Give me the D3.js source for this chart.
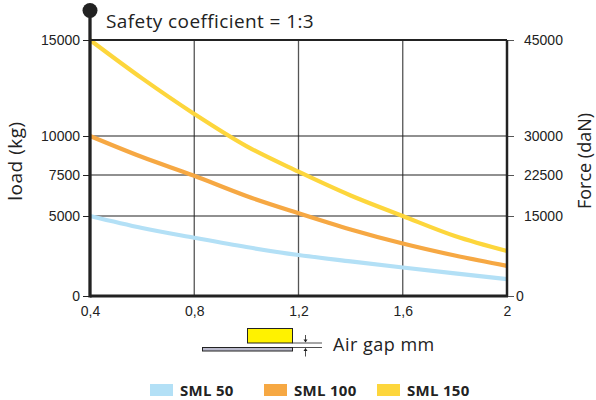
<html>
<head>
  <script src="https://d3js.org/d3.v7.min.js"></script>
  <style>
    body { margin: 0; background: #fff; }
    .tick text { font-family: "Liberation Sans", Arial, sans-serif; font-size: 14px; fill: #222; }
    .domain { display: none; }
    .lbl { font-family: "Open Sans", "Noto Sans", sans-serif; fill: #222; }
  </style>
</head>
<body>
  <svg id="chart" width="596" height="400"></svg>
  <script>
    // data
    const gaps = [0.4, 0.6, 0.8, 1.0, 1.2, 1.4, 1.6, 1.8, 2.0];
    const sml50 = [5000, 4250, 3640, 3060, 2560, 2160, 1780, 1410, 1060];
    const sml100 = [10000, 8650, 7450, 6220, 5170, 4160, 3280, 2530, 1880];
    const sml150 = [15000, 13000, 11150, 9350, 7710, 6250, 5000, 3750, 2810];
    const seriesNames = ["SML 50", "SML 100", "SML 150"];
    const seriesColors = ["#b3e0f6", "#f6a843", "#fdd63c"];
    const loadTicks = [0, 5000, 7500, 10000, 15000];
    const forceTicks = [0, 15000, 22500, 30000, 45000];
    const gapTicks = [0.4, 0.8, 1.2, 1.6, 2];

    const svg = d3.select("#chart");
    const plot = { left: 90, right: 507, top: 40, bottom: 296 };

    const x = d3.scaleLinear().domain([0.4, 2]).range([plot.left, plot.right]);
    // the printed axis is not evenly spaced
    const yRange = [296, 216, 175, 136, 40];
    const y = d3.scaleLinear().domain(loadTicks).range(yRange);
    const yForce = d3.scaleLinear().domain(forceTicks).range(yRange);

    // grid
    svg.append("g").selectAll("line").data(gapTicks.slice(1, -1))
      .join("line")
      .attr("x1", d => x(d)).attr("x2", d => x(d))
      .attr("y1", plot.top).attr("y2", plot.bottom)
      .attr("stroke", "#555").attr("stroke-width", 1.3);

    svg.append("g").selectAll("line").data(loadTicks.slice(1, -1))
      .join("line")
      .attr("x1", plot.left).attr("x2", plot.right)
      .attr("y1", d => y(d)).attr("y2", d => y(d))
      .attr("stroke", "#222").attr("stroke-width", 1.1);

    // axes
    svg.append("g")
      .attr("transform", `translate(${plot.left},0)`)
      .call(d3.axisLeft(y).tickValues(loadTicks).tickSize(7).tickPadding(3).tickFormat(d3.format("d")))
      .call(g => g.selectAll(".tick line").attr("stroke", "#222"));

    svg.append("g")
      .attr("transform", `translate(${plot.right},0)`)
      .call(d3.axisRight(yForce).tickValues(forceTicks).tickSize(7).tickPadding(10).tickFormat(d3.format("d")))
      .call(g => g.selectAll(".tick line").attr("stroke", "#555"))
      .call(g => g.selectAll(".tick text").filter(d => d === 0).attr("x", 9));

    svg.append("g")
      .attr("transform", `translate(0,${plot.bottom})`)
      .call(d3.axisBottom(x).tickValues(gapTicks).tickSize(0).tickPadding(10)
        .tickFormat(d => String(d).replace(".", ",")));

    // series
    const line = d3.line().curve(d3.curveMonotoneX)
      .x((d, i) => x(gaps[i])).y(d => y(d));

    [sml50, sml100, sml150].forEach((s, i) => {
      svg.append("path").datum(s)
        .attr("d", line)
        .attr("fill", "none")
        .attr("stroke", seriesColors[i])
        .attr("stroke-width", 4.2);
    });

    // frame
    svg.append("line").attr("x1", plot.left).attr("x2", plot.right).attr("y1", plot.top).attr("y2", plot.top)
      .attr("stroke", "#222").attr("stroke-width", 2);
    svg.append("line").attr("x1", plot.right).attr("x2", plot.right).attr("y1", plot.top).attr("y2", plot.bottom)
      .attr("stroke", "#222").attr("stroke-width", 2.5);
    svg.append("line").attr("x1", plot.left).attr("x2", plot.right + 1).attr("y1", plot.bottom).attr("y2", plot.bottom)
      .attr("stroke", "#222").attr("stroke-width", 3);
    svg.append("line").attr("x1", plot.left).attr("x2", plot.left).attr("y1", 10).attr("y2", plot.bottom + 1.5)
      .attr("stroke", "#222").attr("stroke-width", 3.3);
    svg.append("circle").attr("cx", plot.left).attr("cy", 10.5).attr("r", 7.5).attr("fill", "#222");

    // titles
    svg.append("text").attr("class", "lbl")
      .attr("x", 106).attr("y", 28).attr("font-size", 19).attr("letter-spacing", 0.4)
      .text("Safety coefficient = 1:3");

    svg.append("text").attr("class", "lbl")
      .attr("transform", "translate(22,161) rotate(-90)")
      .attr("text-anchor", "middle").attr("font-size", 19).attr("letter-spacing", 0.5)
      .text("load (kg)");

    svg.append("text").attr("class", "lbl")
      .attr("transform", "translate(591,161) rotate(-90)")
      .attr("text-anchor", "middle").attr("font-size", 18)
      .text("Force (daN)");

    // air gap sketch
    const sketch = svg.append("g");
    sketch.append("rect").attr("x", 202.5).attr("y", 347.5).attr("width", 90).attr("height", 3.5)
      .attr("fill", "#b9b9cc").attr("stroke", "#222").attr("stroke-width", 1);
    sketch.append("rect").attr("x", 247.5).attr("y", 328.5).attr("width", 45).attr("height", 14.5)
      .attr("fill", "#fff200").attr("stroke", "#222").attr("stroke-width", 1);
    sketch.append("line").attr("x1", 292.5).attr("x2", 322).attr("y1", 343).attr("y2", 343)
      .attr("stroke", "#222").attr("stroke-width", 0.8);
    sketch.append("line").attr("x1", 292.5).attr("x2", 322).attr("y1", 347.5).attr("y2", 347.5)
      .attr("stroke", "#222").attr("stroke-width", 0.8);
    sketch.append("line").attr("x1", 305.5).attr("x2", 305.5).attr("y1", 335).attr("y2", 342)
      .attr("stroke", "#222").attr("stroke-width", 0.8);
    sketch.append("path").attr("d", "M303.5,339.5L305.5,342.5L307.5,339.5Z").attr("fill", "#222");
    sketch.append("line").attr("x1", 305.5).attr("x2", 305.5).attr("y1", 348.5).attr("y2", 356.5)
      .attr("stroke", "#222").attr("stroke-width", 0.8);
    sketch.append("path").attr("d", "M303.5,351L305.5,348L307.5,351Z").attr("fill", "#222");
    sketch.append("text").attr("class", "lbl")
      .attr("x", 333).attr("y", 350.5).attr("font-size", 18).attr("letter-spacing", 0.5)
      .text("Air gap mm");

    // legend
    const legendX = [150, 264, 377];
    const legend = svg.append("g").selectAll("g").data(seriesNames)
      .join("g")
      .attr("transform", (d, i) => `translate(${legendX[i]},384)`);
    legend.append("rect").attr("width", 23).attr("height", 12)
      .attr("fill", (d, i) => seriesColors[i]);
    legend.append("text").attr("class", "lbl")
      .attr("x", 30).attr("y", 12).attr("font-size", 15).attr("font-weight", "bold").attr("letter-spacing", 0.3)
      .text(d => d);
  </script>
</body>
</html>
